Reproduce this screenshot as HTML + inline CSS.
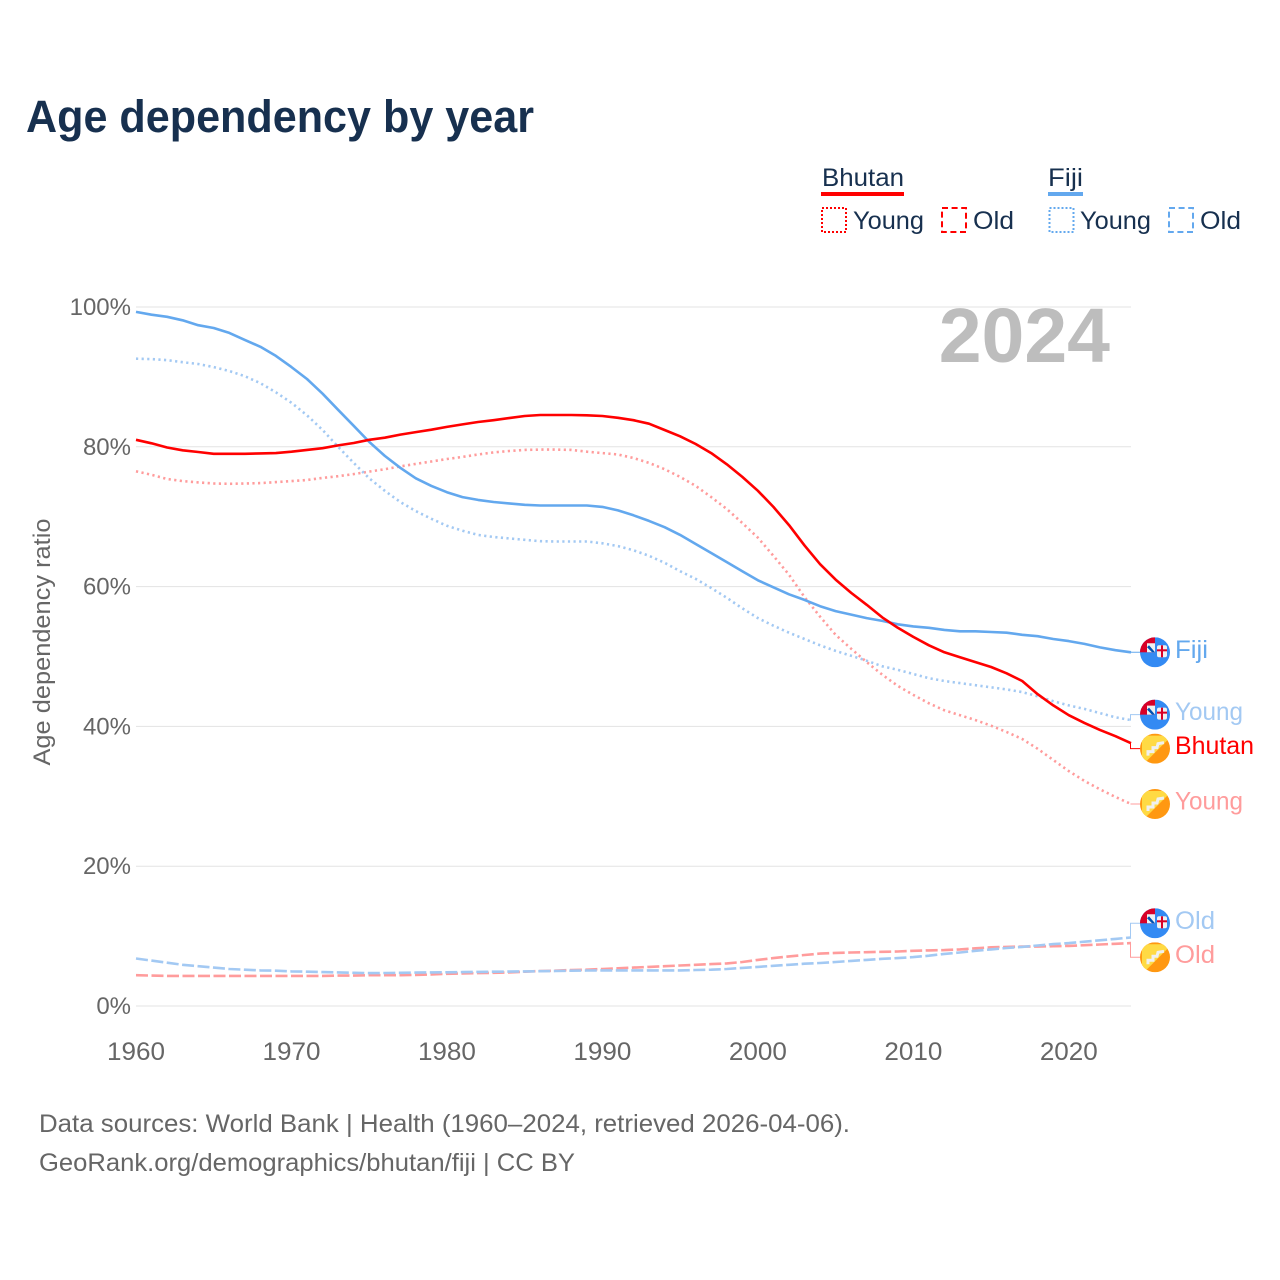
<!DOCTYPE html>
<html lang="en">
<head>
<meta charset="utf-8">
<title>Age dependency by year</title>
<style>
html,body{margin:0;padding:0;background:#fff;}
svg{display:block;}
text{font-family:"Liberation Sans",sans-serif;}
</style>
</head>
<body>
<svg id="chart" xmlns="http://www.w3.org/2000/svg" width="1280" height="1280" viewBox="0 0 1280 1280">
  <defs>
    <clipPath id="disc"><circle cx="0" cy="0" r="15"/></clipPath>
    <g id="flag-fj" clip-path="url(#disc)">
      <rect x="-15" y="-15" width="30" height="30" fill="#338af3"/>
      <rect x="-15" y="-15" width="15" height="15" fill="#d80027"/>
      <path d="M-8-9H0V0H-8Z" fill="#f0f0f0"/>
      <path d="M-6-7L0 0H-3L-8-5Z" fill="#0052b4"/>
      <rect x="2" y="-7" width="10" height="12" rx="2" fill="#f0f0f0"/>
      <rect x="6" y="-7" width="2" height="12" fill="#d80027"/>
      <rect x="2" y="-3" width="10" height="2" fill="#d80027"/>
    </g>
    <g id="flag-bt" clip-path="url(#disc)">
      <rect x="-15" y="-15" width="30" height="30" fill="#ff9811"/>
      <path d="M-15-15H15L-15 15Z" fill="#ffda44" transform="translate(2 2)"/>
      <path d="M-7 7L-7 3L-2 3L-2-1L2-1L3-5L9-6" fill="none" stroke="#f0f0f0" stroke-width="3"/>
    </g>
  </defs>

  <text x="26" y="132" font-size="45" font-weight="700" fill="#17304f" textLength="508" lengthAdjust="spacingAndGlyphs">Age dependency by year</text>

  <g font-size="25" fill="#17304f">
    <text x="822" y="186" textLength="82" lengthAdjust="spacingAndGlyphs">Bhutan</text>
    <rect x="821" y="192" width="83" height="4" fill="#ff0000"/>
    <rect x="822" y="208" width="24" height="24" fill="none" stroke="#ff0000" stroke-width="2" stroke-dasharray="2 2"/>
    <text x="853" y="229" textLength="71" lengthAdjust="spacingAndGlyphs">Young</text>
    <rect x="942" y="208" width="24" height="24" fill="none" stroke="#ff0000" stroke-width="2" stroke-dasharray="6 3.6"/>
    <text x="973" y="229" textLength="41" lengthAdjust="spacingAndGlyphs">Old</text>
    <text x="1048" y="186" textLength="35" lengthAdjust="spacingAndGlyphs">Fiji</text>
    <rect x="1048" y="192" width="35" height="4" fill="#63a8ee"/>
    <rect x="1049.500" y="208" width="24" height="24" fill="none" stroke="#63a8ee" stroke-width="2" stroke-dasharray="2 2"/>
    <text x="1080" y="229" textLength="71" lengthAdjust="spacingAndGlyphs">Young</text>
    <rect x="1169" y="208" width="24" height="24" fill="none" stroke="#63a8ee" stroke-width="2" stroke-dasharray="6 3.6"/>
    <text x="1200" y="229" textLength="41" lengthAdjust="spacingAndGlyphs">Old</text>
  </g>

  <g id="grid"></g>
  <g id="yticks"></g>
  <g id="xticks"></g>

  <text transform="translate(50 642) rotate(-90)" text-anchor="middle" font-size="24" fill="#666" textLength="247" lengthAdjust="spacingAndGlyphs">Age dependency ratio</text>
  <text x="1110" y="362" text-anchor="end" font-size="77" font-weight="700" fill="#bdbdbd">2024</text>

  <g id="series"></g>
  <g id="endlabels"></g>

  <g font-size="25" fill="#666">
    <text x="39" y="1132" textLength="811" lengthAdjust="spacingAndGlyphs">Data sources: World Bank | Health (1960–2024, retrieved 2026-04-06).</text>
    <text x="39" y="1171" textLength="536" lengthAdjust="spacingAndGlyphs">GeoRank.org/demographics/bhutan/fiji | CC BY</text>
  </g>
</svg>
<script>
const startYear = 1960;
const yTickValues = [0, 20, 40, 60, 80, 100];
const xTickYears = [1960, 1970, 1980, 1990, 2000, 2010, 2020];

const bhutanTotal = [81.0,80.5,79.9,79.5,79.25,79.0,79.0,79.0,79.05,79.1,79.3,79.55,79.8,80.2,80.55,81.0,81.3,81.75,82.1,82.45,82.85,83.2,83.55,83.8,84.1,84.4,84.55,84.55,84.55,84.5,84.4,84.15,83.8,83.3,82.4,81.5,80.4,79.1,77.5,75.7,73.7,71.4,68.8,65.9,63.2,61.0,59.1,57.4,55.6,54.1,52.8,51.6,50.6,49.9,49.2,48.5,47.6,46.5,44.6,43.0,41.6,40.5,39.5,38.6,37.6];
const bhutanYoung = [76.5,76.0,75.4,75.1,74.9,74.75,74.7,74.75,74.8,74.95,75.1,75.25,75.55,75.8,76.1,76.45,76.8,77.2,77.55,77.9,78.25,78.55,78.9,79.2,79.4,79.55,79.6,79.6,79.55,79.3,79.1,78.9,78.4,77.7,76.8,75.7,74.4,72.8,71.1,69.1,67.0,64.4,61.7,58.5,55.7,53.1,51.1,49.2,47.4,45.8,44.5,43.3,42.3,41.6,40.9,40.1,39.2,38.2,36.8,35.2,33.6,32.2,31.0,29.9,28.9];
const bhutanOld = [4.4,4.35,4.3,4.3,4.3,4.3,4.3,4.3,4.3,4.3,4.3,4.3,4.3,4.35,4.35,4.4,4.4,4.4,4.45,4.5,4.6,4.65,4.7,4.75,4.8,4.9,5.0,5.05,5.15,5.2,5.3,5.4,5.5,5.6,5.7,5.8,5.9,6.0,6.1,6.3,6.6,6.85,7.1,7.3,7.5,7.6,7.65,7.7,7.75,7.8,7.9,7.95,8.0,8.1,8.25,8.4,8.45,8.5,8.5,8.55,8.6,8.7,8.8,8.9,9.0];
const fijiTotal = [99.3,98.9,98.6,98.1,97.4,97.0,96.3,95.3,94.3,93.0,91.4,89.7,87.6,85.3,83.0,80.7,78.7,77.0,75.5,74.4,73.5,72.8,72.4,72.1,71.9,71.7,71.6,71.6,71.6,71.6,71.4,70.9,70.2,69.4,68.5,67.4,66.1,64.8,63.5,62.2,60.9,59.9,58.9,58.1,57.2,56.5,56.0,55.5,55.1,54.6,54.3,54.1,53.8,53.6,53.6,53.5,53.4,53.1,52.9,52.5,52.2,51.8,51.3,50.9,50.6];
const fijiYoung = [92.6,92.55,92.4,92.1,91.85,91.4,90.85,90.1,89.1,87.8,86.3,84.5,82.4,80.0,77.7,75.5,73.7,72.1,70.8,69.7,68.7,68.0,67.4,67.1,66.9,66.7,66.5,66.45,66.45,66.45,66.2,65.8,65.2,64.4,63.4,62.2,61.1,59.8,58.4,56.9,55.5,54.4,53.4,52.5,51.6,50.8,50.1,49.4,48.6,48.1,47.5,46.9,46.5,46.2,45.9,45.6,45.3,44.9,44.3,43.6,43.0,42.5,41.9,41.3,40.9];
const fijiOld = [6.8,6.5,6.2,5.9,5.7,5.5,5.3,5.2,5.1,5.05,4.95,4.9,4.85,4.8,4.75,4.7,4.72,4.75,4.78,4.8,4.82,4.85,4.88,4.9,4.92,4.95,4.98,5.0,5.05,5.08,5.1,5.1,5.1,5.1,5.1,5.1,5.15,5.2,5.3,5.45,5.6,5.75,5.9,6.05,6.15,6.3,6.45,6.6,6.75,6.85,7.0,7.2,7.45,7.65,7.9,8.1,8.3,8.45,8.65,8.85,9.0,9.2,9.4,9.6,9.8];

const RED = '#ff0000';
const BLUE = '#63a8ee';
const RED_LIGHT = '#ff9c9c';
const BLUE_LIGHT = '#a3c9f3';

const NS = 'http://www.w3.org/2000/svg';
const xScale = year => 136 + (year - 1960) * (1131 - 136) / 64;
const yScale = value => 1006 - value * (1006 - 307) / 100;

function make(tag, attrs, parent) {
  const el = document.createElementNS(NS, tag);
  for (const k in attrs) el.setAttribute(k, attrs[k]);
  parent.appendChild(el);
  return el;
}

const gridG = document.getElementById('grid');
const yG = document.getElementById('yticks');
const xG = document.getElementById('xticks');
yTickValues.forEach(v => {
  const line = make('line', {x1: 136, x2: 1131, y1: yScale(v), y2: yScale(v), stroke: '#e3e3e3', 'stroke-width': 1}, gridG);
  
  
  const t = make('text', {x: 131, y: yScale(v) + 8, 'text-anchor': 'end', 'font-size': 24, fill: '#666'}, yG);
  t.textContent = v + '%';
  
  
});
xTickYears.forEach(y => {
  const t = make('text', {x: xScale(y), y: 1060, 'text-anchor': 'middle', 'font-size': 25, fill: '#666', textLength: 58, lengthAdjust: 'spacingAndGlyphs'}, xG);
  t.textContent = y;
  
  
});

const seriesList = [
  {key: 'bhutan-old', values: bhutanOld, color: RED_LIGHT, dash: '12 3.5', label: 'Old', flag: 'flag-bt', w: 40},
  {key: 'fiji-old', values: fijiOld, color: BLUE_LIGHT, dash: '12 3.5', label: 'Old', flag: 'flag-fj', w: 40},
  {key: 'bhutan-young', values: bhutanYoung, color: RED_LIGHT, dash: '2.2 3.4', label: 'Young', flag: 'flag-bt', w: 68},
  {key: 'fiji-young', values: fijiYoung, color: BLUE_LIGHT, dash: '2.2 3.4', label: 'Young', flag: 'flag-fj', w: 68},
  {key: 'fiji-total', values: fijiTotal, color: BLUE, dash: '', label: 'Fiji', flag: 'flag-fj', w: 33},
  {key: 'bhutan-total', values: bhutanTotal, color: RED, dash: '', label: 'Bhutan', flag: 'flag-bt', w: 79}
];

const seriesG = document.getElementById('series');
seriesList.forEach(s => {
  const d = s.values.map((v, i) => (i ? 'L' : 'M') + xScale(startYear + i).toFixed(1) + ' ' + yScale(v).toFixed(1)).join('');
  const attrs = {d: d, fill: 'none', stroke: s.color, 'stroke-width': 2.6, 'stroke-linejoin': 'round'};
  if (s.dash) attrs['stroke-dasharray'] = s.dash;
  const p = make('path', attrs, seriesG);
  
  
});

/* Dodge the end labels so neighbours keep a minimum vertical gap */
const GAP = 34;
const ordered = seriesList.map(s => ({s: s, y0: yScale(s.values[s.values.length - 1])})).sort((a, b) => a.y0 - b.y0);
let clusters = ordered.map(o => ({items: [o], mid: o.y0}));
let merged = true;
while (merged) {
  merged = false;
  for (let i = 0; i < clusters.length - 1; i++) {
    const a = clusters[i], b = clusters[i + 1];
    const aEnd = a.mid + (a.items.length - 1) * GAP / 2;
    const bStart = b.mid - (b.items.length - 1) * GAP / 2;
    if (bStart - aEnd < GAP) {
      const items = a.items.concat(b.items);
      const mid = items.reduce((m, o) => m + o.y0, 0) / items.length;
      clusters.splice(i, 2, {items: items, mid: mid});
      merged = true;
      break;
    }
  }
}

const labelG = document.getElementById('endlabels');
clusters.forEach(c => {
  c.items.forEach((o, i) => {
    const y = c.mid + (i - (c.items.length - 1) / 2) * GAP;
    const s = o.s;
    const conn = make('path', {d: 'M1131 ' + o.y0.toFixed(1) + 'H1130.500V' + y.toFixed(1) + 'H1141', fill: 'none', stroke: s.color, 'stroke-width': 1}, labelG);
    
    
    const u = make('use', {href: '#' + s.flag, x: 1155, y: y}, labelG);
    
    
    const t = make('text', {x: 1175, y: y + 5.5, 'font-size': 25, fill: s.color, textLength: s.w, lengthAdjust: 'spacingAndGlyphs'}, labelG);
    t.textContent = s.label;
    
    
  });
});
</script>
</body>
</html>
